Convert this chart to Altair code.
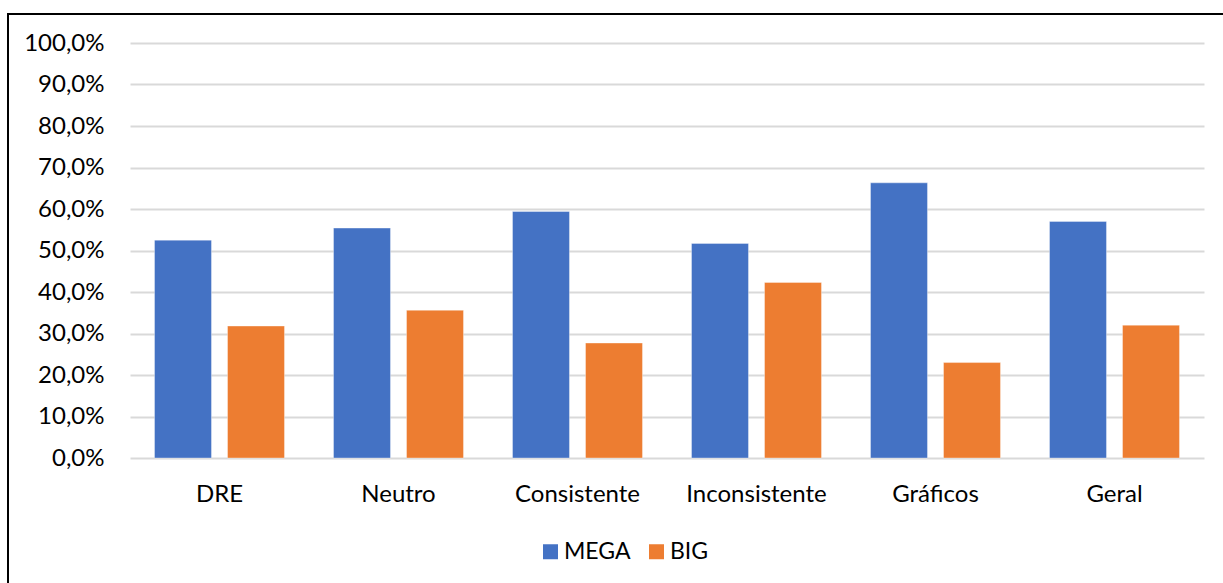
import altair as alt
import pandas as pd

categories = ["DRE", "Neutro", "Consistente", "Inconsistente", "Gráficos", "Geral"]
mega = [0.525, 0.554, 0.594, 0.517, 0.663, 0.570]
big = [0.318, 0.356, 0.277, 0.423, 0.230, 0.320]
series = ["MEGA", "BIG"]
colors = ["#4472C4", "#ED7D31"]

rows = []
for c, m, b in zip(categories, mega, big):
    rows.append({"cat": c, "serie": "MEGA", "val": m})
    rows.append({"cat": c, "serie": "BIG", "val": b})
df = pd.DataFrame(rows)

FONT = "Lato"

bars = alt.Chart(df).mark_bar(stroke="white", strokeWidth=0.6, strokeOpacity=0.6).encode(
    x=alt.X("cat:N", sort=categories, title=None,
            scale=alt.Scale(paddingInner=0.274, paddingOuter=0.137),
            axis=alt.Axis(labelAngle=0, ticks=False, domain=False, labelPadding=24,
                          labelFontSize=24, labelFont=FONT, labelColor="#000000")),
    xOffset=alt.XOffset("serie:N", sort=series,
                        scale=alt.Scale(paddingInner=0.22, paddingOuter=0)),
    y=alt.Y("val:Q", title=None,
            scale=alt.Scale(domain=[0, 1], nice=False),
            axis=alt.Axis(values=[i / 10 for i in range(11)], labelExpr="replace(format(datum.value, '.1%'), '.', ',')",
                          ticks=False, domain=False, labelPadding=26,
                          labelFontSize=24, labelFont=FONT, labelColor="#000000",
                          gridColor="#D9D9D9", gridWidth=2)),
    color=alt.Color("serie:N", sort=series,
                    scale=alt.Scale(domain=series, range=colors),
                    legend=alt.Legend(title=None, orient="none", direction="horizontal",
                                      legendX=409, legendY=497, symbolType="square",
                                      symbolSize=225, symbolStrokeWidth=0, labelFontSize=23,
                                      labelFont=FONT, labelColor="#000000", labelOffset=2,
                                      columnPadding=14, padding=0)),
)

border = alt.Chart(df).mark_rect(fill=None, stroke="black", strokeWidth=2).encode(
    x=alt.value(-122), x2=alt.value(1200), y=alt.value(-29), y2=alt.value(600)
)

chart = alt.layer(border, bars).properties(
    width=1074, height=415,
    autosize=alt.AutoSizeParams(type="none"),
    padding={"left": 130, "top": 43, "right": 19, "bottom": 125},
    background="white",
).configure_view(stroke=None)

chart.save("out.html", embed_options={"renderer": "svg", "actions": False})
